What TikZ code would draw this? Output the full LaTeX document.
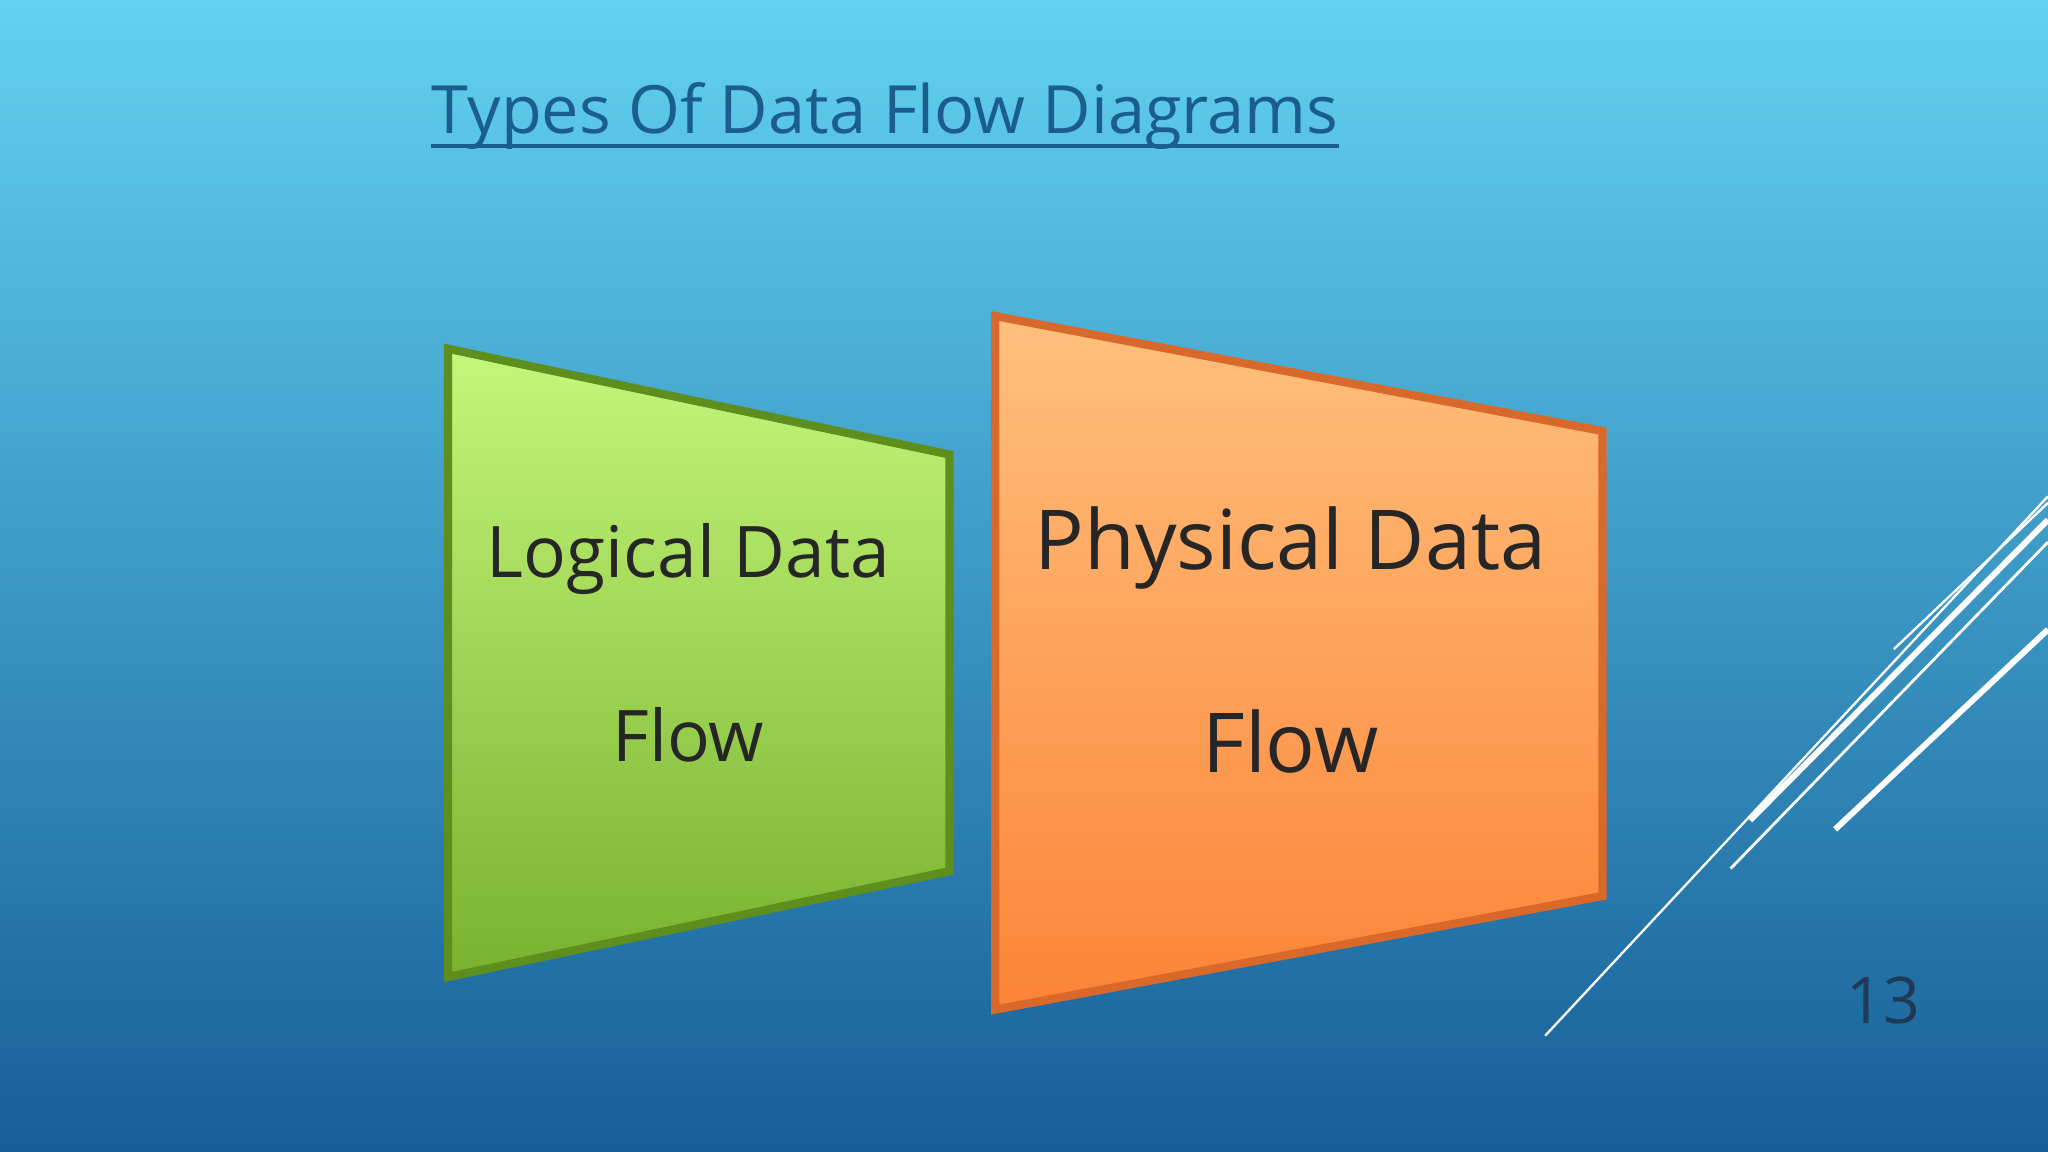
\documentclass[tikz,border=0pt]{standalone}
\usepackage{fontspec}
\setmainfont{Open Sans}
\usetikzlibrary{shadings}
\definecolor{bgtop}{HTML}{62D2F0}
\definecolor{bgbot}{HTML}{165E98}
\definecolor{titlec}{HTML}{1B5E8E}
\definecolor{gtop}{HTML}{C4F67A}
\definecolor{gbot}{HTML}{78B22E}
\definecolor{gedge}{HTML}{5E8F1E}
\definecolor{otop}{HTML}{FFC07E}
\definecolor{obot}{HTML}{FB8436}
\definecolor{oedge}{HTML}{D9692A}
\definecolor{numc}{HTML}{1E3A55}
\tikzset{
 boxtext/.style={font=\fontsize{15.5}{28}\selectfont, text=black!85, align=center},
 deco/.style={white, line width=#1},
}
\begin{document}
\begin{tikzpicture}[y=-0.01cm, x=0.01cm]
\useasboundingbox (0,0) rectangle (1568,882);
\shade[top color=bgtop, bottom color=bgbot] (0,0) rectangle (1568,882);
\node[anchor=base west, inner sep=0, text=titlec, font=\fontsize{14.5}{18}\selectfont] (title) at (330,102) {Types Of Data Flow Diagrams};
\draw[titlec, line width=0.8pt] (title.base west)++(0,10) -- ++(695,0);
% green
\shade[top color=gtop, bottom color=gbot, draw=gedge, line width=1.8pt]
 (343,267) -- (727,348) -- (727,667) -- (343,748) -- cycle;
\node[boxtext] (logical) at (527,492) {Logical Data\\[12pt]Flow};
% orange
\shade[top color=otop, bottom color=obot, draw=oedge, line width=1.8pt]
 (762,242) -- (1227,330) -- (1227,686) -- (762,773) -- cycle;
\node[boxtext, font=\fontsize{18}{30}\selectfont] (physical) at (988,490) {Physical Data\\[14pt]Flow};
% decorative lines
\draw[deco=0.5pt] (1183,793) -- (1568,380);
\draw[deco=1.3pt] (1340,628) -- (1568,398);
\draw[deco=0.6pt] (1325,665) -- (1568,415);
\draw[deco=1.3pt] (1405,635) -- (1568,482);
\draw[deco=0.5pt] (1450,497) -- (1568,385);
\node[text=numc, font=\fontsize{14}{16}\selectfont] (num) at (1442,766) {13};
\end{tikzpicture}
\end{document}
